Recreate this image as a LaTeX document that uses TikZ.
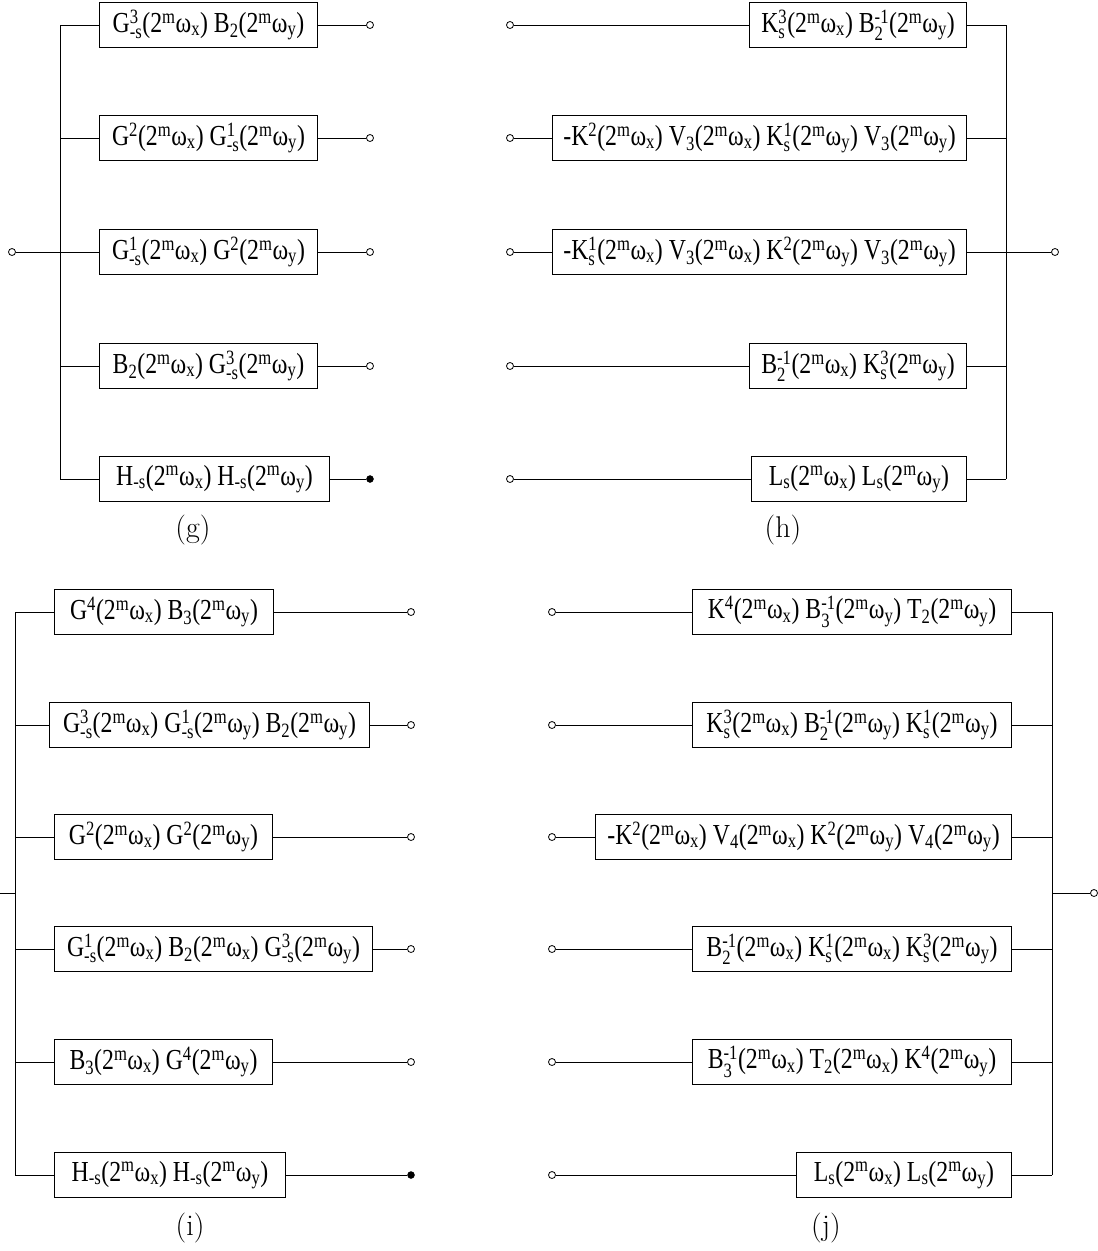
\documentclass[tikz,border=0pt]{standalone}
\usepackage{amsmath}
\usepackage{fontspec}
\newfontfamily\boxfont[FakeStretch=0.82]{Liberation Serif}
\usepackage{tikz}
\usetikzlibrary{positioning}
% scripts in the filter names
\newcommand{\upx}[1]{$^{\text{#1}}$}
\newcommand{\dnx}[1]{$_{\text{#1}}$}
\newcommand{\udx}[2]{$^{\text{#1}}_{\text{#2}}$}
\newcommand{\freq}[1]{(2\upx{m}ω\dnx{#1})}
\tikzset{%
  fbox/.style={draw,line width=1pt,minimum height=45,inner sep=4pt,font=\boxfont\fontsize{29}{34}\selectfont},
  wire/.style={line width=1pt},
  port/.style={draw,circle,line width=0.8pt,fill=white,inner sep=0pt,minimum size=7},
  sink/.style={draw,circle,fill=black,inner sep=0pt,minimum size=7},
  caption/.style={font=\fontsize{30}{34}\selectfont}
}
\begin{document}
\begin{tikzpicture}[x=1pt,y=-1pt]
\useasboundingbox (0,0) rectangle (1098,1251);

% (g)
\node[fbox,anchor=west,minimum width=218] (g1) at (99,25) {G\udx{3}{-s}\freq{x} B\dnx{2}\freq{y}};
\node[fbox,anchor=west,minimum width=218] (g2) at (99,138) {G\upx{2}\freq{x} G\udx{1}{-s}\freq{y}};
\node[fbox,anchor=west,minimum width=218] (g3) at (99,252) {G\udx{1}{-s}\freq{x} G\upx{2}\freq{y}};
\node[fbox,anchor=west,minimum width=218] (g4) at (99,366) {B\dnx{2}\freq{x} G\udx{3}{-s}\freq{y}};
\node[fbox,anchor=west,minimum width=230] (g5) at (99,479) {H\dnx{-s}\freq{x} H\dnx{-s}\freq{y}};
\node[caption] (gcap) at (193,530) {(g)};
\coordinate (gbt) at (60,25);
\coordinate (gbb) at (60,479);
\node[port] (gin) at (12,252) {};
\foreach \i/\y in {1/25,2/138,3/252,4/366}
  \node[port] (go\i) at (370,\y) {};
\node[sink] (go5) at (370,479) {};

% (h)
\node[fbox,anchor=east,minimum width=217] (h1) at (967,25) {K\udx{3}{s}\freq{x} B\udx{-1}{2}\freq{y}};
\node[fbox,anchor=east,minimum width=414] (h2) at (967,138) {-K\upx{2}\freq{x} V\dnx{3}\freq{x} K\udx{1}{s}\freq{y} V\dnx{3}\freq{y}};
\node[fbox,anchor=east,minimum width=414] (h3) at (967,252) {-K\udx{1}{s}\freq{x} V\dnx{3}\freq{x} K\upx{2}\freq{y} V\dnx{3}\freq{y}};
\node[fbox,anchor=east,minimum width=217] (h4) at (967,366) {B\udx{-1}{2}\freq{x} K\udx{3}{s}\freq{y}};
\node[fbox,anchor=east,minimum width=215] (h5) at (967,479) {L\dnx{s}\freq{x} L\dnx{s}\freq{y}};
\node[caption] (hcap) at (783,530) {(h)};
\coordinate (hbt) at (1006,25);
\coordinate (hbb) at (1006,479);
\node[port] (hout) at (1055,252) {};
\foreach \i/\y in {1/25,2/138,3/252,4/366,5/479}
  \node[port] (hin\i) at (510,\y) {};

% (i)
\node[fbox,anchor=west,minimum width=219] (i1) at (54,612) {G\upx{4}\freq{x} B\dnx{3}\freq{y}};
\node[fbox,anchor=west,minimum width=320] (i2) at (49,725) {G\udx{3}{-s}\freq{x} G\udx{1}{-s}\freq{y} B\dnx{2}\freq{y}};
\node[fbox,anchor=west,minimum width=218] (i3) at (54,837) {G\upx{2}\freq{x} G\upx{2}\freq{y}};
\node[fbox,anchor=west,minimum width=318] (i4) at (54,949) {G\udx{1}{-s}\freq{x} B\dnx{2}\freq{x} G\udx{3}{-s}\freq{y}};
\node[fbox,anchor=west,minimum width=218] (i5) at (54,1062) {B\dnx{3}\freq{x} G\upx{4}\freq{y}};
\node[fbox,anchor=west,minimum width=231] (i6) at (54,1175) {H\dnx{-s}\freq{x} H\dnx{-s}\freq{y}};
\node[caption] (icap) at (190,1228) {(i)};
\coordinate (ibt) at (15,612);
\coordinate (ibb) at (15,1175);
\coordinate (iin) at (0,893);
\foreach \i/\y in {1/612,2/725,3/837,4/949,5/1062}
  \node[port] (io\i) at (411,\y) {};
\node[sink] (io6) at (411,1175) {};

% (j)
\node[fbox,anchor=east,minimum width=319] (j1) at (1012,612) {K\upx{4}\freq{x} B\udx{-1}{3}\freq{y} T\dnx{2}\freq{y}};
\node[fbox,anchor=east,minimum width=319] (j2) at (1012,725) {K\udx{3}{s}\freq{x} B\udx{-1}{2}\freq{y} K\udx{1}{s}\freq{y}};
\node[fbox,anchor=east,minimum width=416] (j3) at (1012,837) {-K\upx{2}\freq{x} V\dnx{4}\freq{x} K\upx{2}\freq{y} V\dnx{4}\freq{y}};
\node[fbox,anchor=east,minimum width=319] (j4) at (1012,949) {B\udx{-1}{2}\freq{x} K\udx{1}{s}\freq{x} K\udx{3}{s}\freq{y}};
\node[fbox,anchor=east,minimum width=319] (j5) at (1012,1062) {B\udx{-1}{3}\freq{x} T\dnx{2}\freq{x} K\upx{4}\freq{y}};
\node[fbox,anchor=east,minimum width=215] (j6) at (1012,1175) {L\dnx{s}\freq{x} L\dnx{s}\freq{y}};
\node[caption] (jcap) at (826,1228) {(j)};
\coordinate (jbt) at (1052,612);
\coordinate (jbb) at (1052,1175);
\coordinate (jbm) at (1052,893);
\node[port] (jout) at (1094,893) {};
\foreach \i/\y in {1/612,2/725,3/837,4/949,5/1062,6/1175}
  \node[port] (jin\i) at (552,\y) {};

% Wires
\draw[wire] (gbt) -- (gbb);
\draw[wire] (gin) -- (g3.west);
\foreach \i in {1,...,5}{
  \draw[wire] (g\i.west) -- (g\i.west -| gbt);
  \draw[wire] (g\i.east) -- (go\i);
}
\draw[wire] (hbt) -- (hbb);
\draw[wire] (h3.east) -- (hout);
\foreach \i in {1,...,5}{
  \draw[wire] (hin\i) -- (h\i.west);
  \draw[wire] (h\i.east) -- (h\i.east -| hbt);
}
\draw[wire] (ibt) -- (ibb);
\draw[wire] (iin) -- (iin -| ibt);
\foreach \i in {1,...,6}{
  \draw[wire] (i\i.west) -- (i\i.west -| ibt);
  \draw[wire] (i\i.east) -- (io\i);
}
\draw[wire] (jbt) -- (jbb);
\draw[wire] (jbm) -- (jout);
\foreach \i in {1,...,6}{
  \draw[wire] (jin\i) -- (j\i.west);
  \draw[wire] (j\i.east) -- (j\i.east -| jbt);
}

\end{tikzpicture}
\end{document}
